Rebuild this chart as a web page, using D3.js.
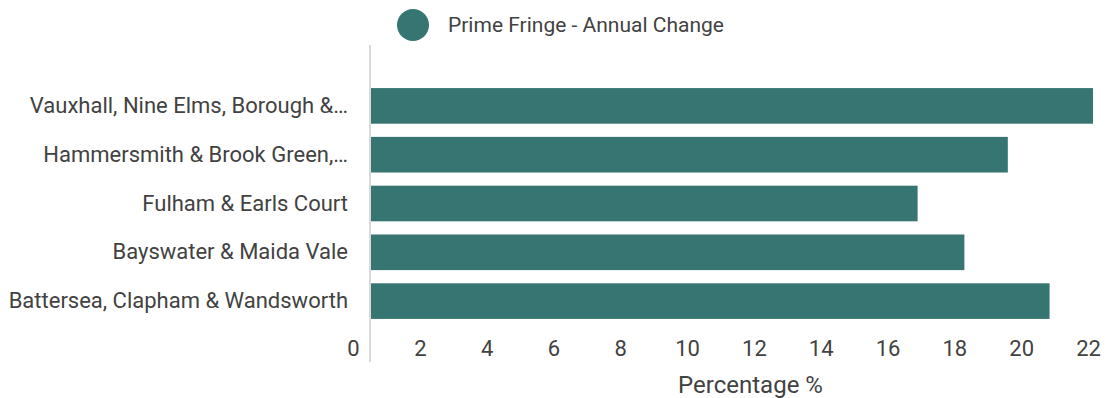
<!DOCTYPE html>
<html><head><meta charset="utf-8">
<script src="https://cdn.jsdelivr.net/npm/d3@7"></script>
<style>body{margin:0;background:#fff;}svg{display:block;font-family:Roboto,sans-serif;}</style>
</head><body><svg id="c" width="1114" height="398"></svg>
<script>
const categories = ["Vauxhall, Nine Elms, Borough &…","Hammersmith & Brook Green,…","Fulham & Earls Court","Bayswater & Maida Vale","Battersea, Clapham & Wandsworth"];
const values = [22.15, 19.6, 16.9, 18.3, 20.85];
const tickValues = [0,2,4,6,8,10,12,14,16,18,20,22];
const seriesName = "Prime Fringe - Annual Change";
const axisTitle = "Percentage %";
const color = "#377572";
const textColor = "#424242";

const svg = d3.select("#c");
const x = d3.scaleLinear().domain([0,22]).range([353,1088]);
const baseX = x(0) + 17;
const y = d3.scaleBand().domain(categories).range([81.5,325.5]).paddingInner(0.27).paddingOuter(0.135);

svg.append("line").attr("x1",baseX).attr("x2",baseX).attr("y1",45).attr("y2",362)
  .attr("stroke","#d9d9d9").attr("stroke-width",2);

svg.selectAll("rect.bar").data(values).join("rect").attr("class","bar")
  .attr("x",baseX+1).attr("y",(d,i)=>y(categories[i]))
  .attr("width",d=>x(d)-baseX-1).attr("height",y.bandwidth()).attr("fill",color);

const yAxis = d3.axisLeft(y).tickSize(0).tickPadding(0);
const gy = svg.append("g").attr("transform","translate(348,0)").call(yAxis);
gy.select(".domain").remove();
gy.selectAll("text").attr("font-size",22).attr("fill",textColor).attr("font-family","Roboto");

const xAxis = d3.axisBottom(x).tickValues(tickValues).tickSize(0).tickPadding(0);
const gx = svg.append("g").attr("transform","translate(0,340)").call(xAxis);
gx.select(".domain").remove();
gx.selectAll("text").attr("font-size",22).attr("fill",textColor).attr("font-family","Roboto");

svg.append("text").attr("x",750.5).attr("y",393).attr("text-anchor","middle")
  .attr("font-size",24).attr("fill",textColor).text(axisTitle);

svg.append("circle").attr("cx",413).attr("cy",25).attr("r",16).attr("fill",color);
svg.append("text").attr("x",448).attr("y",32).attr("font-size",21).attr("fill",textColor).text(seriesName);
</script></body></html>
